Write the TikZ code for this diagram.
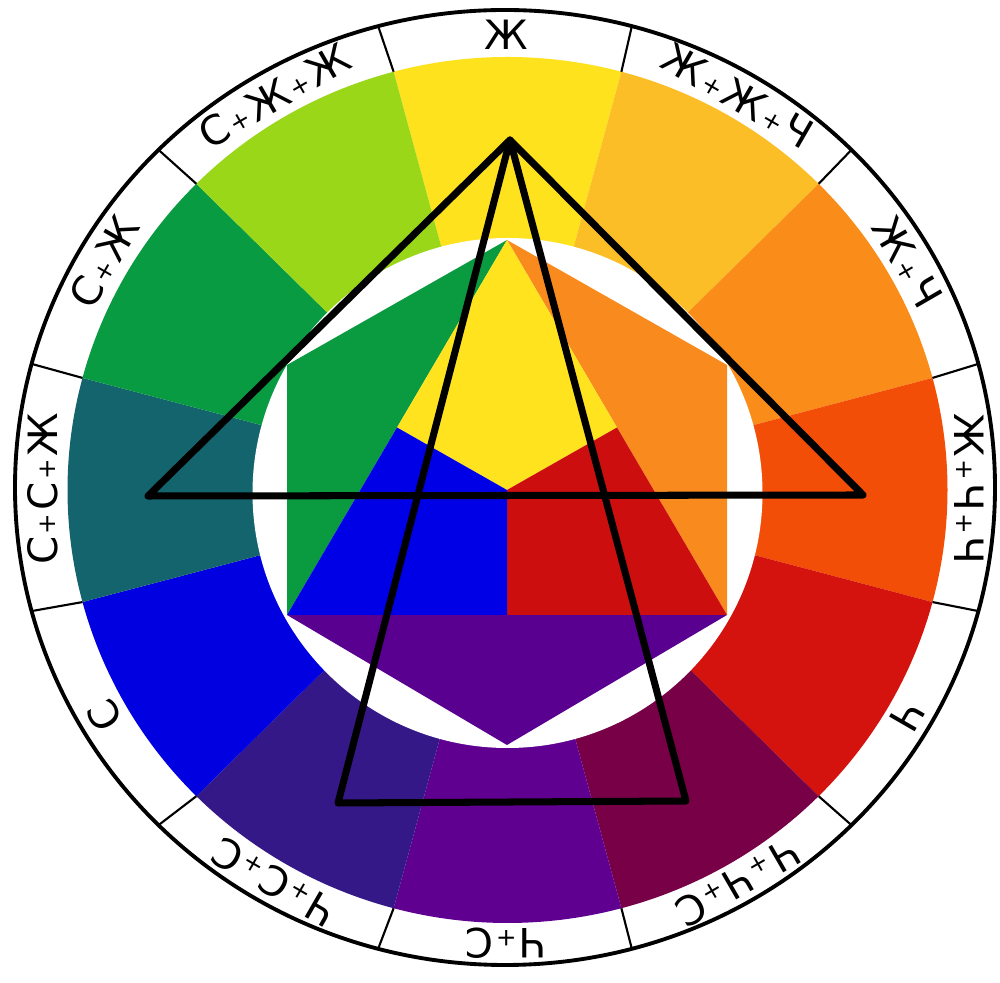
\documentclass[tikz,border=0pt]{standalone}
\usepackage{fontspec}
\setmainfont{DejaVu Sans}
\usetikzlibrary{calc}
\newcommand\plsign{\kern1.5pt{\fontsize{14}{14}\selectfont\raisebox{1pt}{+}}\kern1.5pt}
\definecolor{cY}{HTML}{FFE21E}
\definecolor{cYYR}{HTML}{FCBE26}
\definecolor{cYR}{HTML}{FA8C1A}
\definecolor{cYRR}{HTML}{F34E08}
\definecolor{cR}{HTML}{D4120E}
\definecolor{cRRB}{HTML}{780046}
\definecolor{cRB}{HTML}{5F0091}
\definecolor{cRBB}{HTML}{341887}
\definecolor{cB}{HTML}{0000E1}
\definecolor{cBBY}{HTML}{14646E}
\definecolor{cBY}{HTML}{089B42}
\definecolor{cBYY}{HTML}{9BD719}
\definecolor{iY}{HTML}{FFE31E}
\definecolor{iR}{HTML}{CC0E0E}
\definecolor{iB}{HTML}{0000E6}
\definecolor{iG}{HTML}{0A9A40}
\definecolor{iO}{HTML}{F98B1E}
\definecolor{iV}{HTML}{5A0090}
\tikzset{
  lbl/.style={font=\fontsize{23}{23}\selectfont, inner sep=0pt, anchor=center},
  tick/.style={line width=1.2pt, black},
  tri/.style={line width=4pt, black, line join=round}
}
\begin{document}
\begin{tikzpicture}
\fill[white] (0,0) rectangle (20,19.66);
\useasboundingbox (0,0) rectangle (20,19.66);
\coordinate (CC) at (10.15,9.86);
\coordinate (CK) at (10.10,9.91);
\coordinate (CL) at (10.12,9.88);
% colored ring sectors
\foreach \ang/\col in {90/cY,60/cYYR,30/cYR,0/cYRR,-30/cR,-60/cRRB,-90/cRB,-120/cRBB,-150/cB,-180/cBBY,-210/cBY,-240/cBYY}{
  \pgfmathsetmacro\aa{\ang-15}
  \pgfmathsetmacro\ab{\ang+15}
  \fill[\col] (CC) -- ($(CC)+(\aa:8.8cm and 8.66cm)$) arc[start angle=\aa, end angle=\ab, x radius=8.8cm, y radius=8.66cm] -- cycle;
}
% white inner disc
\fill[white] (10.15,9.80) circle[radius=5.1cm];
% hexagon
\coordinate (T) at (10.14,14.86);
\coordinate (UL) at (5.74,12.36);
\coordinate (LL) at (5.74,7.36);
\coordinate (B) at (10.14,4.76);
\coordinate (LR) at (14.54,7.36);
\coordinate (UR) at (14.54,12.36);
\coordinate (O) at (10.14,9.86);
\coordinate (Ml) at (7.94,11.11);
\coordinate (Mr) at (12.34,11.11);
\coordinate (Mb) at (10.14,7.36);
\fill[iG] (T) -- (UL) -- (LL) -- cycle;
\fill[iO] (T) -- (UR) -- (LR) -- cycle;
\fill[iV] (LL) -- (B) -- (LR) -- cycle;
\fill[iY] (T) -- (Mr) -- (O) -- (Ml) -- cycle;
\fill[iR] (Mr) -- (LR) -- (Mb) -- (O) -- cycle;
\fill[iB] (Ml) -- (O) -- (Mb) -- (LL) -- cycle;
% outer ring
\draw[line width=2.2pt] (CK) ellipse[x radius=9.8cm, y radius=9.55cm];
\foreach \ang in {15,45,...,345}{
  \draw[tick] ($(CC)+(\ang:8.8cm and 8.66cm)$) -- ($(CK)+(\ang:9.8cm and 9.55cm)$);
}
% labels
\foreach \ang/\txt/\nm in {90/Ж/l1,60/Ж\plsign Ж\plsign Ч/l2,30/Ж\plsign Ч/l3,0/Ж\plsign Ч\plsign Ч/l4,-30/Ч/l5,-60/Ч\plsign Ч\plsign С/l6,-90/Ч\plsign С/l7,-120/Ч\plsign С\plsign С/l8,-150/С/l9,-180/С\plsign С\plsign Ж/l10,-210/С\plsign Ж/l11,-240/С\plsign Ж\plsign Ж/l12}{
  \pgfmathsetmacro\rot{\ang-90}
  \node[lbl, rotate=\rot] (\nm) at ($(CL)+(\ang:9.27cm and 9.08cm)$) {\txt};
}
% black triangles
\coordinate (A) at (10.20,16.86);
\coordinate (L) at (2.96,9.74);
\coordinate (R) at (17.26,9.76);
\coordinate (BL) at (6.76,3.60);
\coordinate (BR) at (13.72,3.64);
\draw[tri] (A) -- (L) -- (R) -- cycle;
\draw[tri] (A) -- (BL) -- (BR) -- cycle;
\end{tikzpicture}
\end{document}
